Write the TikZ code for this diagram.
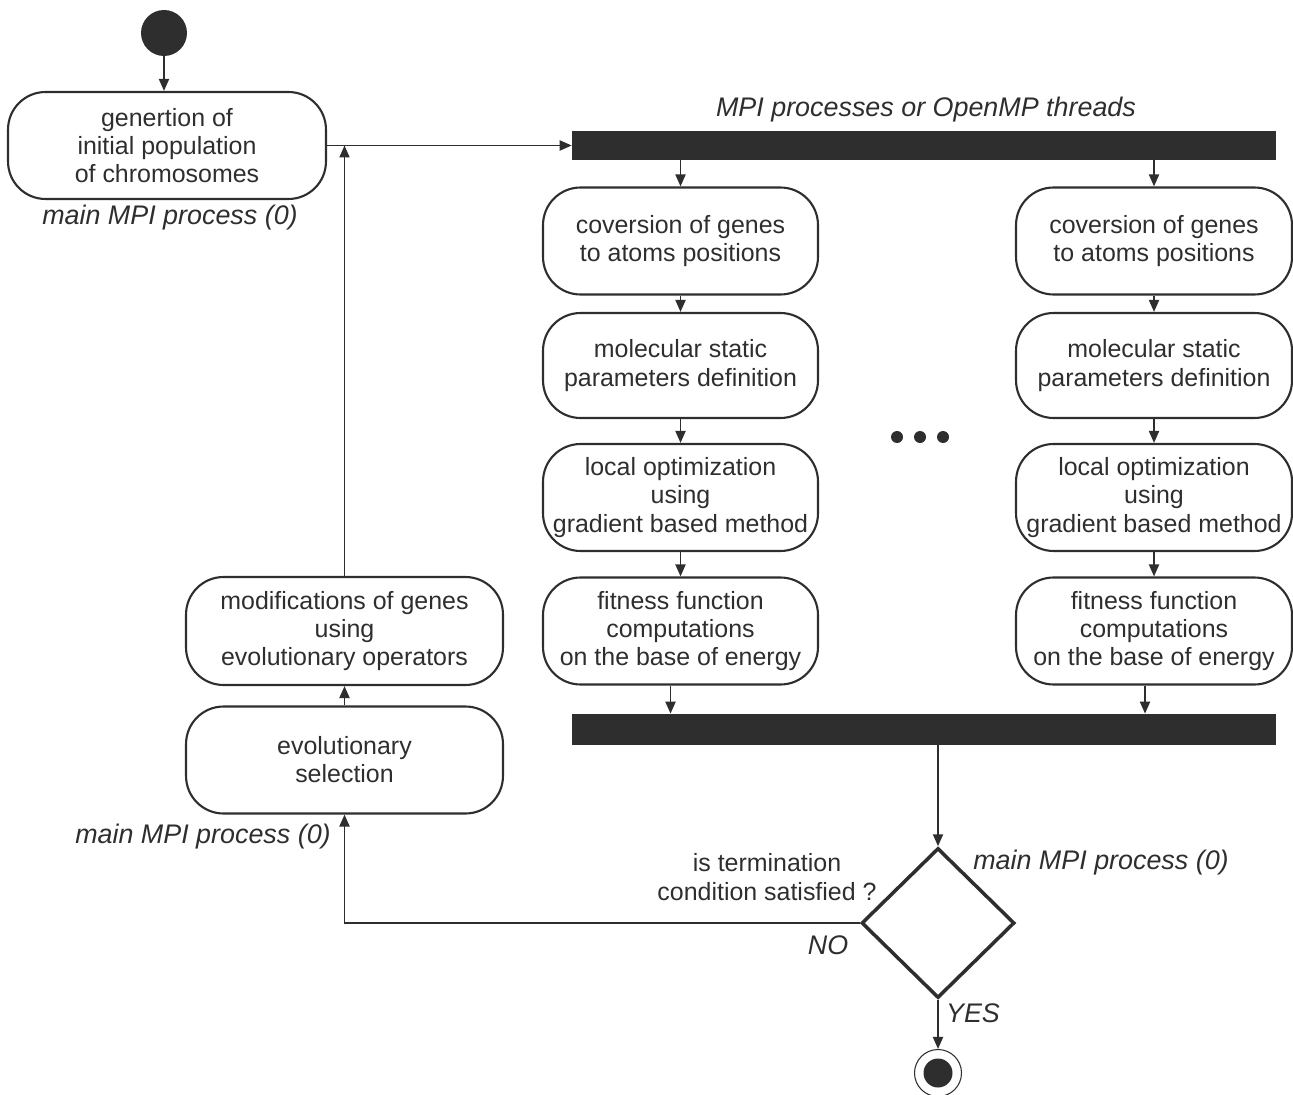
\documentclass[tikz,border=0pt]{standalone}
\usepackage{fontspec}
\setmainfont{Liberation Sans}
\usetikzlibrary{arrows.meta,shapes.geometric}
\definecolor{ink}{HTML}{2E2E2E}
\begin{document}
\begin{tikzpicture}[x=0.02cm,y=-0.02cm,
  font=\fontsize{14.2}{16}\selectfont,
  state/.style={draw=ink, line width=1.2pt, rounded corners=0.75cm, align=center, text=ink, inner sep=2pt},
  colbox/.style={state, minimum width=5.5cm, minimum height=2.14cm},
  sidebox/.style={state, minimum width=6.34cm, minimum height=2.16cm},
  bar/.style={fill=ink, draw=none, inner sep=0pt, minimum width=14.08cm},
  arr/.style={-{Triangle[length=0.24cm,width=0.2cm]}, draw=ink, line width=1.1pt},
  lbl/.style={font=\fontsize{15.3}{17}\selectfont\itshape, text=ink},
  dot/.style={circle, fill=ink, inner sep=0pt, minimum size=0.24cm}]
\useasboundingbox (0,0) rectangle (1293,1094);

% start
\node[circle, fill=ink, minimum size=0.92cm, inner sep=0pt] (start) at (164,33) {};
\node[state, minimum width=6.36cm, minimum height=2.14cm] (gen) at (167,145.5) {genertion of\\initial population\\of chromosomes};
\node[lbl] (l1) at (170,218) {main MPI process (0)};

% bars
\node[bar, minimum height=0.58cm] (bar1) at (924,145.5) {};
\node[lbl] (l2) at (926,110) {MPI processes or OpenMP threads};
\node[bar, minimum height=0.62cm] (bar2) at (924,729.5) {};

% column 1
\node[colbox] (a1) at (680.5,241) {coversion of genes\\to atoms positions};
\node[colbox, minimum height=2.1cm] (a2) at (680.5,365.5) {molecular static\\parameters definition};
\node[colbox] (a3) at (680.5,497.5) {local optimization\\using\\gradient based method};
\node[colbox] (a4) at (680.5,631) {fitness function\\computations\\on the base of energy};

% column 2
\node[colbox, minimum width=5.52cm] (b1) at (1154,241) {coversion of genes\\to atoms positions};
\node[colbox, minimum width=5.52cm, minimum height=2.1cm] (b2) at (1154,365.5) {molecular static\\parameters definition};
\node[colbox, minimum width=5.52cm] (b3) at (1154,497.5) {local optimization\\using\\gradient based method};
\node[colbox, minimum width=5.52cm] (b4) at (1154,631) {fitness function\\computations\\on the base of energy};

% dots
\node[dot] (d1) at (897,437) {};
\node[dot] (d2) at (920,437) {};
\node[dot] (d3) at (943,437) {};

% left side
\node[sidebox] (mod) at (344.5,631) {modifications of genes\\using\\evolutionary operators};
\node[sidebox, minimum height=2.14cm] (sel) at (344.5,760) {evolutionary\\selection};
\node[lbl] (l3) at (203,837) {main MPI process (0)};

% decision
\node[diamond, draw=ink, line width=2pt, minimum width=3.06cm, minimum height=3cm, inner sep=0pt] (dia) at (938,923) {};
\node[lbl] (l4) at (1101,863) {main MPI process (0)};
\node[align=center, text=ink, font=\fontsize{14.2}{16.5}\selectfont] (q) at (767,877.5) {is termination\\condition satisfied ?};
\node[lbl] (no) at (828,945) {NO};
\node[lbl] (yes) at (973,1013) {YES};

% end
\node[circle, draw=ink, line width=0.6pt, minimum size=0.94cm, inner sep=0pt] (end) at (938,1073) {};
\node[circle, fill=ink, minimum size=0.58cm, inner sep=0pt] (endin) at (end.center) {};

% connectors
\draw[arr] (start.south) -- (start.south |- gen.north);
\draw[arr] (gen.east) -- (bar1.west);
\draw[arr] (mod.north) -- (mod.north |- gen.east);
\draw[arr] (a1.north |- bar1.south) -- (a1.north);
\draw[arr] (b1.north |- bar1.south) -- (b1.north);
\draw[arr] (a1.south) -- (a2.north);
\draw[arr] (a2.south) -- (a3.north);
\draw[arr] (a3.south) -- (a4.north);
\draw[arr] (b1.south) -- (b2.north);
\draw[arr] (b2.south) -- (b3.north);
\draw[arr] (b3.south) -- (b4.north);
\draw[arr] ([xshift=-0.2cm]a4.south) -- ([xshift=-0.2cm]a4.south |- bar2.north);
\draw[arr] ([xshift=-0.18cm]b4.south) -- ([xshift=-0.18cm]b4.south |- bar2.north);
\draw[arr] (dia.north |- bar2.south) -- (dia.north);
\draw[arr] (dia.west) -- (sel.south |- dia.west) -- (sel.south);
\draw[arr] (sel.north) -- (mod.south);
\draw[arr] (dia.south) -- (end.north);
\end{tikzpicture}
\end{document}
